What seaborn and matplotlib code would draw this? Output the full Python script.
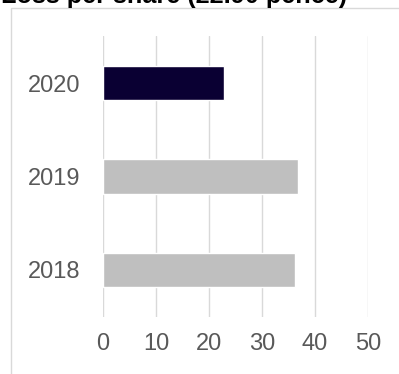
import matplotlib
matplotlib.use("Agg")
import matplotlib.pyplot as plt
from matplotlib.patches import Rectangle
import seaborn as sns
import pandas as pd

years = ["2020", "2019", "2018"]
loss_pence = [22.90, 36.8, 36.2]
bar_colors = ["#0a0033", "#bfbfbf", "#bfbfbf"]
x_ticks = [0, 10, 20, 30, 40, 50]
title = "Loss per share (22.90 pence)"

sns.set_theme(style="white")
plt.rcParams["font.family"] = ["Liberation Sans", "DejaVu Sans"]

W, H = 399, 374
fig = plt.figure(figsize=(W / 100, H / 100), dpi=100)
ax = fig.add_axes([103 / W, 1 - 316.75 / H, (368 - 103) / W, (316.75 - 36.25) / H])

df = pd.DataFrame({"year": years, "loss": loss_pence})
sns.barplot(data=df, x="loss", y="year", hue="year", order=years,
            palette=dict(zip(years, bar_colors)), orient="h",
            width=0.365, legend=False, saturation=1, ax=ax)

ax.set_xlim(0, 50)
ax.set_ylim(2.5, -0.5)
ax.set_xticks(x_ticks)
ax.set_xticklabels([str(t) for t in x_ticks])
ax.set_xlabel("")
ax.set_ylabel("")
ax.grid(axis="x", color="#d9d9d9", linewidth=1.0)
ax.set_axisbelow(True)
for s in ax.spines.values():
    s.set_visible(False)
ax.tick_params(axis="both", length=0, labelsize=17, colors="#595959")
ax.tick_params(axis="y", pad=16)
ax.tick_params(axis="x", pad=12)

# chart area border
fig.add_artist(Rectangle((11 / W, -0.1), 1.2, 1.1 - 8 / H,
                         transform=fig.transFigure, fill=False,
                         edgecolor="#d9d9d9", linewidth=1.0))

fig.text(1 / W, 1 - 3.5 / H, title, ha="left", va="baseline",
         fontsize=18.2, fontweight="bold", color="black")

fig.savefig("out.png", dpi=100)
